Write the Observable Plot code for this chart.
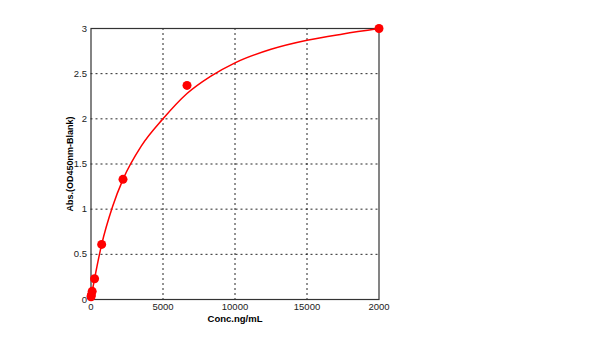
<!DOCTYPE html>
<html>
<head>
<meta charset="utf-8">
<script src="https://cdn.jsdelivr.net/npm/d3@7"></script>
<script src="https://cdn.jsdelivr.net/npm/@observablehq/plot@0.6"></script>
<style>
html,body{margin:0;padding:0;background:#fff;}
svg{display:block;}
</style>
</head>
<body>
<div id="chart"></div>
<script>
// Standard points
const conc = [0, 27, 82, 247, 741, 2222, 6667, 20000];
const absorb = [0.03, 0.05, 0.09, 0.23, 0.61, 1.33, 2.37, 3.0];
// Fitted curve
const curveX = [0, 82, 247, 741, 1500, 2222, 3500, 5000, 6667, 8300, 10000, 12500, 15000, 17500, 20000];
const curveY = [0.03, 0.09, 0.23, 0.61, 1.03, 1.33, 1.7, 2.0, 2.28, 2.47, 2.62, 2.77, 2.87, 2.94, 3.0];
// Ticks
const xTicks = [0, 5000, 10000, 15000, 20000];
const xTickLabels = ["0", "5000", "10000", "15000", "2000"];
const yTicks = [0, 0.5, 1, 1.5, 2, 2.5, 3];
const yTickLabels = ["0", "0.5", "1", "1.5", "2", "2.5", "3"];

const pts = conc.map((c, i) => ({x: c, y: absorb[i]}));
const curve = curveX.map((c, i) => ({x: c, y: curveY[i]}));

const chart = Plot.plot({
  width: 600,
  height: 338,
  marginLeft: 90.5,
  marginRight: 221.5,
  marginTop: 28,
  marginBottom: 39,
  style: {fontFamily: "Liberation Sans, Arial, sans-serif", fontSize: "10px", color: "#222", background: "#fff"},
  x: {domain: [0, 20000], label: null},
  y: {domain: [0, 3], label: null},
  marks: [
    Plot.gridX(xTicks.slice(1, -1), {stroke: "#000", strokeOpacity: 0.85, strokeDasharray: "2,3", strokeWidth: 1}),
    Plot.gridY(yTicks.slice(1, -1), {stroke: "#000", strokeOpacity: 0.85, strokeDasharray: "2,3", strokeWidth: 1}),
    Plot.frame({stroke: "#333", strokeWidth: 1.2}),
    Plot.line(curve, {x: "x", y: "y", stroke: "#ff0000", strokeWidth: 1.5, curve: "monotone-x"}),
    Plot.dot(pts, {x: "x", y: "y", r: 4.5, fill: "#ff0000", stroke: "none"}),
    Plot.axisX({ticks: xTicks, tickFormat: (d) => xTickLabels[xTicks.indexOf(d)], tickSize: 0, tickPadding: 4, label: null, fontSize: 9.5}),
    Plot.axisY({ticks: yTicks, tickFormat: (d) => yTickLabels[yTicks.indexOf(d)], tickSize: 0, tickPadding: 4, label: null, fontSize: 9.5}),
    Plot.text(["Conc.ng/mL"], {frameAnchor: "bottom", dy: 22, fontWeight: "bold", fontSize: 9.5, fill: "#000"}),
    Plot.text(["Abs.(OD450nm-Blank)"], {frameAnchor: "left", textAnchor: "middle", dx: -20.5, rotate: -90, fontWeight: "bold", fontSize: 9, fill: "#000"})
  ]
});
document.getElementById("chart").appendChild(chart);
</script>
</body>
</html>
